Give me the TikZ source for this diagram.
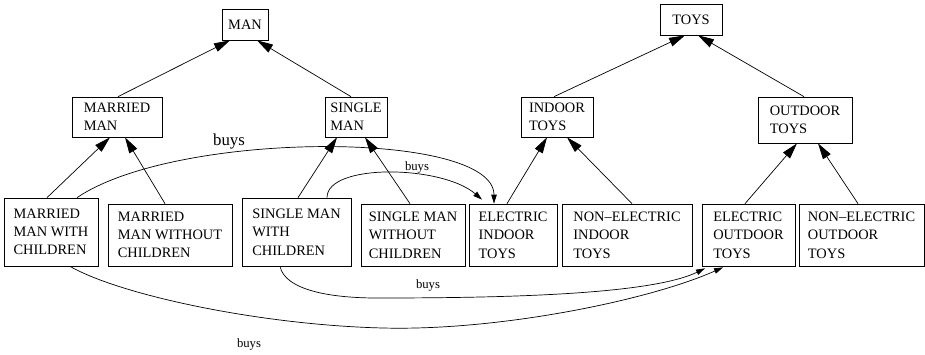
\documentclass[tikz,border=0pt]{standalone}
\usepackage{fontspec}
\setmainfont{Liberation Serif}
\usetikzlibrary{arrows.meta}

\begin{document}
\begin{tikzpicture}[x=1pt, y=-1pt,
	box/.style={draw, line width=0.7pt, inner sep=0pt, align=left, font=\fontsize{14.4}{18.3}\selectfont},
	isa/.style={line width=0.7pt, -{Triangle[length=16pt,width=9pt]}},
	buys/.style={line width=0.7pt, -{Triangle[length=9pt,width=5.5pt]}},
	lbl/.style={inner sep=0pt, anchor=base, font=\fontsize{12.7}{14}\selectfont}]

	\useasboundingbox (0,0) rectangle (925,354);

	% roots
	\node[box, minimum width=46pt, minimum height=31pt] (man) at (245,24.5) {MAN};
	\node[box, minimum width=62pt, minimum height=31pt] (toys) at (691,19.5) {TOYS};

	% middle level
	\node[box, minimum width=90pt, minimum height=40pt] (married) at (117,117) {MARRIED\\MAN};
	\node[box, minimum width=62pt, minimum height=40pt] (single) at (356,117) {SINGLE\\MAN};
	\node[box, minimum width=72pt, minimum height=40pt] (indoor) at (557,117) {INDOOR\\TOYS};
	\node[box, minimum width=94pt, minimum height=46pt] (outdoor) at (805,120) {OUTDOOR\\TOYS};

	% leaves
	\node[box, minimum width=94pt, minimum height=68pt] (mwc) at (51,232) {MARRIED\\MAN WITH\\CHILDREN};
	\node[box, minimum width=124pt, minimum height=62pt] (mwoc) at (170,235) {MARRIED\\MAN WITHOUT\\CHILDREN};
	\node[box, minimum width=109pt, minimum height=68pt] (swc) at (296.5,232) {SINGLE MAN\\WITH\\CHILDREN};
	\node[box, minimum width=104pt, minimum height=62pt] (swoc) at (413,235) {SINGLE MAN\\WITHOUT\\CHILDREN};
	\node[box, minimum width=88pt, minimum height=62pt] (eit) at (513,235) {ELECTRIC\\INDOOR\\TOYS};
	\node[box, minimum width=130pt, minimum height=62pt] (neit) at (627,235) {NON--ELECTRIC\\INDOOR\\TOYS};
	\node[box, minimum width=93pt, minimum height=62pt] (eot) at (748.5,235) {ELECTRIC\\OUTDOOR\\TOYS};
	\node[box, minimum width=125pt, minimum height=62pt] (neot) at (861.5,235) {NON--ELECTRIC\\OUTDOOR\\TOYS};

	% is-a edges
	\draw[isa] ([xshift=1pt]married.north) -- ([xshift=-15pt]man.south);
	\draw[isa] ([xshift=-5pt]single.north) -- ([xshift=12pt]man.south);
	\draw[isa] ([xshift=-3pt]indoor.north) -- ([xshift=-6pt]toys.south);
	\draw[isa] ([xshift=-1pt]outdoor.north) -- ([xshift=7pt]toys.south);

	\draw[isa] ([xshift=-4pt]mwc.north) -- ([xshift=-7pt]married.south);
	\draw[isa] ([xshift=-5pt]mwoc.north) -- ([xshift=8pt]married.south);
	\draw[isa] ([xshift=1.5pt]swc.north) -- ([xshift=-19pt]single.south);
	\draw[isa] ([xshift=-3pt]swoc.north) -- ([xshift=9pt]single.south);
	\draw[isa] ([xshift=-6pt]eit.north) -- ([xshift=-10pt]indoor.south);
	\draw[isa] ([xshift=5pt]neit.north) -- ([xshift=10pt]indoor.south);
	\draw[isa] ([xshift=-3.5pt]eot.north) -- ([xshift=-8pt]outdoor.south);
	\draw[isa] ([xshift=-3.5pt]neot.north) -- ([xshift=13pt]outdoor.south);

	% buys
	\draw[buys] ([xshift=26pt]mwc.north) .. controls (177,130) and (494,130) .. ([xshift=-19pt]eit.north);
	\draw[buys] ([xshift=30.5pt]swc.north) .. controls (327,163) and (442,165) .. ([xshift=-31pt,yshift=4pt]eit.north);
	\draw[buys] ([xshift=-16.5pt]swc.south) .. controls (285,290) and (330,298) .. (377,298)
		.. controls (500,298) and (650,295) .. ([xshift=-43.5pt,yshift=-2pt]eot.south);
	\draw[buys] ([xshift=19pt]mwc.south) .. controls (120,295) and (260,325) .. (383,328)
		.. controls (500,331) and (650,300) .. ([xshift=-25.5pt,yshift=-1pt]eot.south);

	\node[lbl, font=\fontsize{16.8}{18}\selectfont] (b1) at (229,145.5) {buys};
	\node[lbl] (b2) at (417,170.5) {buys};
	\node[lbl] (b3) at (428,288) {buys};
	\node[lbl] (b4) at (249,347.7) {buys};

\end{tikzpicture}
\end{document}
